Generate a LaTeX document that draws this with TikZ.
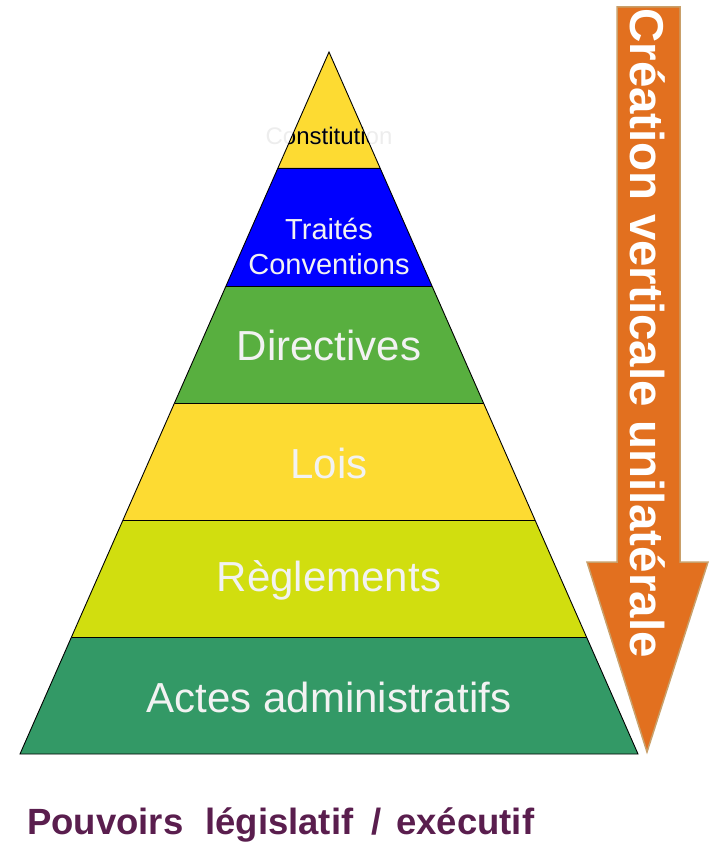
\documentclass[tikz,border=0pt]{standalone}
\usepackage{fontspec}
\setmainfont{Liberation Sans}
\definecolor{cyell}{HTML}{FDDB32}
\definecolor{cblue}{HTML}{0000FF}
\definecolor{cgreen}{HTML}{58AF3F}
\definecolor{clime}{HTML}{D1DE0F}
\definecolor{cdgreen}{HTML}{339966}
\definecolor{corange}{HTML}{E2701F}
\definecolor{ctan}{HTML}{C9A06A}
\definecolor{cpurple}{HTML}{5A1E4E}
\definecolor{ctext}{HTML}{F2F2F2}
\begin{document}
\begin{tikzpicture}[x=1pt,y=-1pt,
  band/.style={draw=black,line width=0.9pt,line join=miter},
  lvl/.style={text=ctext,font=\fontsize{42}{46}\selectfont,inner sep=0pt,anchor=center}]
\useasboundingbox (0,0) rectangle (709,842);
% pyramid bands
\coordinate (apex) at (329,52);
\fill[cyell] (apex) -- (380.06,168) -- (277.94,168) -- cycle;
\fill[cblue] (277.94,168) -- (380.06,168) -- (432,286) -- (226,286) -- cycle;
\fill[cgreen] (226,286) -- (432,286) -- (483.5,403) -- (174.5,403) -- cycle;
\fill[cyell] (174.5,403) -- (483.5,403) -- (535,520) -- (123,520) -- cycle;
\fill[clime] (123,520) -- (535,520) -- (586.5,637) -- (71.5,637) -- cycle;
\fill[cdgreen] (71.5,637) -- (586.5,637) -- (638,754) -- (20,754) -- cycle;
% Constitution label: light outside, black inside the top triangle
\node[text=black!7,font=\fontsize{24}{26}\selectfont,inner sep=0pt] (constg) at (329,136) {Constitution};
\begin{scope}
\clip (apex) -- (380.06,168) -- (277.94,168) -- cycle;
\node[text=black,font=\fontsize{24}{26}\selectfont,inner sep=0pt] (const) at (329,136) {Constitution};
\end{scope}
% outlines
\draw[band] (277.94,168) -- (380.06,168);
\draw[band] (226,286) -- (432,286);
\draw[band] (174.5,403) -- (483.5,403);
\draw[band] (123,520) -- (535,520);
\draw[band] (71.5,637) -- (586.5,637);
\draw[band] (apex) -- (638,754) -- (20,754) -- cycle;
% labels
\node[text=ctext,font=\fontsize{29}{35}\selectfont,align=center,inner sep=0pt] (traites) at (329,246) {Traités\\Conventions};
\node[lvl] (dir) at (329,345) {Directives};
\node[lvl] (lois) at (329,463) {Lois};
\node[lvl] (regl) at (329,580) {Règlements};
\node[lvl] (actes) at (329,697) {Actes administratifs};
% arrow
\draw[fill=corange,draw=ctan,line width=1.5pt,line join=miter]
  (617,7) -- (680,7) -- (680,562) -- (708,562) -- (647,752) -- (587,562) -- (617,562) -- cycle;
\node[text=white,font=\bfseries\fontsize{47.5}{50}\selectfont,rotate=-90,inner sep=0pt] (arrowtxt) at (648,333) {Création verticale unilatérale};
% bottom caption
\node[text=cpurple,font=\bfseries\fontsize{36.5}{39}\selectfont,inner sep=0pt,anchor=base west] (caption) at (27,834) {Pouvoirs\hspace{0.6em}législatif\hspace{0.5em}/\hspace{0.4em}exécutif};
\end{tikzpicture}
\end{document}
